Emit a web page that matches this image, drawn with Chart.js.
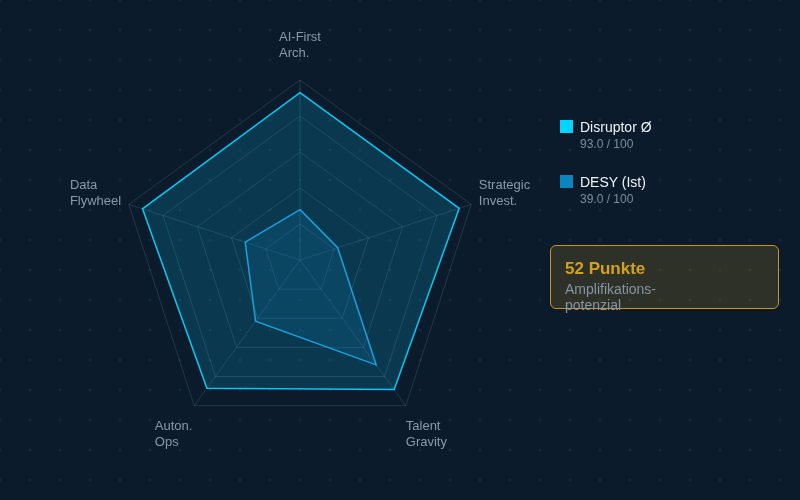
<!DOCTYPE html>
<html lang="de">
<head>
    <meta charset="UTF-8">
    <title>Disruptor vs. DESY</title>
    <script src="https://cdn.jsdelivr.net/npm/chart.js"></script>
    <style>
        html, body {
            margin: 0;
            padding: 0;
        }
        body {
            width: 800px;
            height: 500px;
            overflow: hidden;
            position: relative;
            font-family: "Liberation Sans", Arial, sans-serif;
            background-color: #0c1b2c;
            background-image: url("data:image/svg+xml,%3Csvg xmlns='http://www.w3.org/2000/svg' width='30' height='30'%3E%3Cpath d='M15 13.5v3M13.5 15h3' stroke='%23172b3e' stroke-width='1'/%3E%3C/svg%3E");
            background-position: -15px -15px;
        }
        #chartBox {
            position: absolute;
            left: 0;
            top: 0;
            width: 800px;
            height: 500px;
        }
        .leyenda {
            position: absolute;
            left: 560px;
        }
        .leyenda .cuadro {
            position: absolute;
            left: 0;
            top: 0;
            width: 13px;
            height: 13px;
        }
        .leyenda .nombre {
            position: absolute;
            left: 20px;
            top: -1px;
            white-space: nowrap;
            color: #eef3f7;
            font-size: 14px;
        }
        .leyenda .valor {
            position: absolute;
            left: 20px;
            top: 17px;
            white-space: nowrap;
            color: #7f8e9e;
            font-size: 12px;
        }
        .callout {
            position: absolute;
            left: 550px;
            top: 245px;
            width: 229px;
            height: 64px;
            box-sizing: border-box;
            border: 1px solid #c9961c;
            border-radius: 6px;
            background: rgba(212, 160, 23, 0.17);
        }
        .callout .grande {
            position: absolute;
            left: 14px;
            top: 13px;
            color: #d4a020;
            font-size: 17px;
            font-weight: bold;
            white-space: nowrap;
        }
        .callout .chico {
            position: absolute;
            left: 14px;
            top: 35px;
            color: #8595a5;
            font-size: 14px;
            line-height: 16px;
        }
    </style>
</head>
<body>

    <div id="chartBox"><canvas id="graficoRadar"></canvas></div>

    <div class="leyenda" style="top:120px">
        <div class="cuadro" style="background:#00d4ff"></div>
        <div class="nombre">Disruptor Ø</div>
        <div class="valor">93.0 / 100</div>
    </div>
    <div class="leyenda" style="top:175px">
        <div class="cuadro" style="background:#0a86bd"></div>
        <div class="nombre">DESY (Ist)</div>
        <div class="valor">39.0 / 100</div>
    </div>

    <div class="callout">
        <div class="grande">52 Punkte</div>
        <div class="chico">Amplifikations-<br>potenzial</div>
    </div>

    <script>
    // datos (sentido horario desde arriba)
    const ejes = [
        ['AI-First', 'Arch.'],
        ['Strategic', 'Invest.'],
        ['Talent', 'Gravity'],
        ['Auton.', 'Ops'],
        ['Data', 'Flywheel']
    ];
    const disruptor = [93, 93, 89, 88, 92];
    const desy = [28, 22, 72, 42, 32];
    const escalaMin = 0;
    const escalaMax = 100;
    const pasoEscala = 20;

    // etiquetas de los ejes, alineadas a la izquierda dentro de su bloque
    const etiquetasEjes = {
        id: 'etiquetasEjes',
        afterDraw(chart) {
            const r = chart.scales.r;
            const ctx = chart.ctx;
            ctx.save();
            ctx.font = '13px "Liberation Sans", Arial, sans-serif';
            ctx.fillStyle = '#8a99a9';
            ctx.textAlign = 'left';
            ctx.textBaseline = 'middle';
            const alto = 16;
            ejes.forEach((lineas, i) => {
                const p = r.getPointPosition(i, r.drawingArea + 35);
                const ancho = Math.max(...lineas.map(t => ctx.measureText(t).width));
                const x0 = p.x - ancho / 2;
                const y0 = p.y - (lineas.length * alto) / 2 + alto / 2;
                lineas.forEach((t, k) => ctx.fillText(t, x0, y0 + k * alto));
            });
            ctx.restore();
        }
    };

    document.addEventListener("DOMContentLoaded", function() {
        const ctx = document.getElementById('graficoRadar').getContext('2d');
        new Chart(ctx, {
            type: 'radar',
            data: {
                labels: ejes,
                datasets: [
                    {
                        label: 'DESY (Ist)',
                        data: desy,
                        backgroundColor: 'rgba(14, 150, 210, 0.15)',
                        borderColor: '#1aa0dc',
                        borderWidth: 1.5,
                        pointRadius: 0,
                        order: 1
                    },
                    {
                        label: 'Disruptor Ø',
                        data: disruptor,
                        backgroundColor: 'rgba(0, 200, 255, 0.17)',
                        borderColor: '#06c8f2',
                        borderWidth: 1.5,
                        pointRadius: 0,
                        order: 2
                    }
                ]
            },
            options: {
                responsive: true,
                maintainAspectRatio: false,
                animation: false,
                layout: {
                    padding: { top: 80, left: 120, right: 320, bottom: 60 }
                },
                plugins: {
                    legend: { display: false },
                    tooltip: { enabled: false }
                },
                scales: {
                    r: {
                        min: escalaMin,
                        max: escalaMax,
                        ticks: { display: false, stepSize: pasoEscala },
                        pointLabels: { display: false },
                        grid: { color: 'rgba(120, 170, 205, 0.2)', lineWidth: 1 },
                        angleLines: { color: 'rgba(120, 170, 205, 0.2)', lineWidth: 1 }
                    }
                }
            },
            plugins: [etiquetasEjes]
        });
    });
    </script>

</body>
</html>
